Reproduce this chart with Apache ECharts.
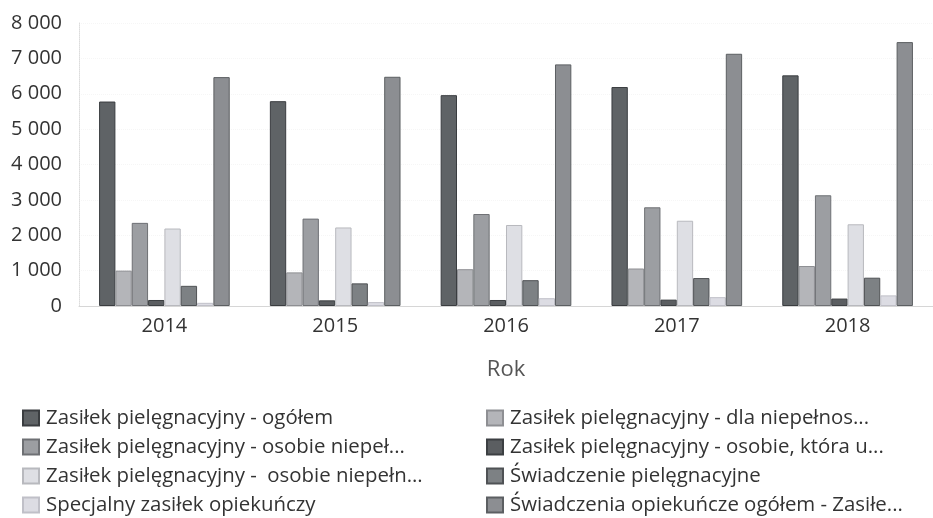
<!DOCTYPE html>
<html>
<head>
<meta charset="utf-8">
<script src="https://cdn.jsdelivr.net/npm/echarts@6/dist/echarts.min.js"></script>
<style>
  html, body { margin: 0; padding: 0; background: #fff; }
  #chart { width: 933px; height: 518px; }
</style>
</head>
<body>
<div id="chart"></div>
<script>
// Lata (kategorie osi X)
const years = ['2014', '2015', '2016', '2017', '2018'];

// Nazwy serii (w kolejności słupków)
const seriesNames = [
  'Zasiłek pielęgnacyjny - ogółem',
  'Zasiłek pielęgnacyjny - dla niepełnos...',
  'Zasiłek pielęgnacyjny - osobie niepeł...',
  'Zasiłek pielęgnacyjny - osobie, która u...',
  'Zasiłek pielęgnacyjny -  osobie niepełn...',
  'Świadczenie pielęgnacyjne',
  'Specjalny zasiłek opiekuńczy',
  'Świadczenia opiekuńcze ogółem - Zasiłe...'
];

// Wartości serii
const zpOgolem       = [5780, 5790, 5960, 6190, 6520];
const zpDlaNiepelnos = [1000, 950, 1040, 1060, 1130];
const zpOsobieNiepel = [2350, 2470, 2600, 2790, 3130];
const zpOsobieKtora  = [170, 160, 170, 180, 210];
const zpOsobieNiepelnoletniej = [2190, 2220, 2290, 2410, 2310];
const swPielegnacyjne = [570, 640, 730, 790, 800];
const specjalnyZasilek = [90, 110, 220, 250, 300];
const swOpiekuncze   = [6470, 6480, 6830, 7130, 7460];

const seriesValues = [
  zpOgolem, zpDlaNiepelnos, zpOsobieNiepel, zpOsobieKtora,
  zpOsobieNiepelnoletniej, swPielegnacyjne, specjalnyZasilek, swOpiekuncze
];

// Odcienie szarości słupków i krawędzie
const fills   = ['#5f6366', '#b4b5b9', '#9c9ea2', '#5b5e61', '#dedfe4', '#7d8184', '#dcdce3', '#8c8e92'];
const borders = ['#3a3d40', '#8e8f93', '#6e7074', '#3c3f42', '#b8b9be', '#4f5255', '#c0c0c8', '#5c5f62'];

const fmt = v => String(v).replace(/\B(?=(\d{3})+(?!\d))/g, ' ');

const chart = echarts.init(document.getElementById('chart'), null, { renderer: 'canvas' });

const legendBase = {
  orient: 'vertical',
  top: 408,
  height: 200,
  padding: 0,
  itemWidth: 16,
  itemHeight: 15,
  itemGap: 9,
  icon: 'rect',
  selectedMode: false,
  textStyle: { fontFamily: 'Open Sans', fontSize: 20.4, lineHeight: 15, color: '#333', padding: [0, 0, 0, 2] }
};

chart.setOption({
  animation: false,
  backgroundColor: '#fff',
  grid: { left: 79, right: -15, top: 23, bottom: 212 },
  legend: [
    Object.assign({}, legendBase, { left: 22, data: [seriesNames[0], seriesNames[2], seriesNames[4], seriesNames[6]] }),
    Object.assign({}, legendBase, { left: 486, data: [seriesNames[1], seriesNames[3], seriesNames[5], seriesNames[7]] })
  ],
  xAxis: {
    type: 'category',
    data: years,
    name: 'Rok',
    nameLocation: 'middle',
    nameGap: 53,
    nameTextStyle: { fontFamily: 'Open Sans', fontSize: 22, color: '#555' },
    axisLine: { lineStyle: { color: '#d6d6d6', width: 1 } },
    axisTick: { show: false },
    axisLabel: { fontFamily: 'Open Sans', fontSize: 20, color: '#333', margin: 10 }
  },
  yAxis: {
    type: 'value',
    min: 0,
    max: 8000,
    interval: 1000,
    axisLine: { show: true, lineStyle: { color: '#dcdcdc', width: 1, type: 'dotted' } },
    axisTick: { show: false },
    splitLine: { show: true, lineStyle: { color: '#f6f6f6', type: 'dotted' } },
    axisLabel: { fontFamily: 'Open Sans', fontSize: 20, color: '#333', margin: 17, formatter: fmt }
  },
  series: seriesNames.map((name, i) => ({
    name,
    type: 'bar',
    data: seriesValues[i],
    barGap: '0%',
    barCategoryGap: '23.5%',
    itemStyle: { color: fills[i], borderColor: borders[i], borderWidth: 1 }
  }))
});
</script>
</body>
</html>
